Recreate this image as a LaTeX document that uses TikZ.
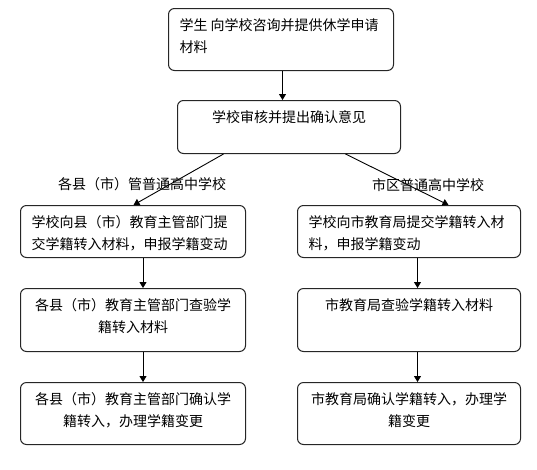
\documentclass[tikz,border=0pt]{standalone}
\usepackage{fontspec}
\setmainfont{Noto Sans CJK SC}
\usetikzlibrary{arrows.meta, positioning, calc}

\begin{document}
\begin{tikzpicture}[
  x=1pt, y=-1pt,
  box/.style={draw=black!85, line width=1pt, rounded corners=6pt,
              inner xsep=11pt, inner ysep=10pt, anchor=north west,
              font=\fontsize{14}{22}\selectfont},
  arr/.style={-{Triangle[length=6pt,width=7pt]}, line width=0.9pt},
  lbl/.style={font=\fontsize{14}{22}\selectfont, inner sep=0pt}
]
\useasboundingbox (0,0) rectangle (537,469);

% Top steps
\node[box] (apply) at (168,8)
  {\parbox[t][42pt][t]{203pt}{\raggedright 学生 向学校咨询并提供休学申请\\材料}};
\node[box] (review) at (177,100)
  {\parbox[t][33pt][t]{201pt}{\centering 学校审核并提出确认意见}};

% Left branch — county schools
\node[box] (lsubmit) at (20,205)
  {\parbox[t][32pt][t]{203pt}{\raggedright 学校向县（市）教育主管部门提\\交学籍转入材料，申报学籍变动}};
\node[box] (lcheck) at (20,288)
  {\parbox[t][43pt][t]{203pt}{\centering 各县（市）教育主管部门查验学\\籍转入材料}};
\node[box] (lconfirm) at (20,382)
  {\parbox[t][42pt][t]{203pt}{\centering 各县（市）教育主管部门确认学\\籍转入，办理学籍变更}};

% Right branch — city schools
\node[box] (rsubmit) at (297,205)
  {\parbox[t][32pt][t]{201pt}{\raggedright 学校向市教育局提交学籍转入材\\料，申报学籍变动}};
\node[box] (rcheck) at (297,288)
  {\parbox[t][43pt][t]{201pt}{\centering 市教育局查验学籍转入材料}};
\node[box] (rconfirm) at (297,382)
  {\parbox[t][42pt][t]{201pt}{\centering 市教育局确认学籍转入，办理学\\籍变更}};

% Branch labels
\node[lbl] (lname) at (142,184) {各县（市）管普通高中学校};
\node[lbl] (rname) at (428,185) {市区普通高中学校};

% Connectors
\draw[arr] ([xshift=1.5pt]apply.south) -- ([xshift=1.5pt]apply.south |- review.north);
\draw[arr] ([xshift=-65.5pt]review.south) -- ([xshift=0.5pt]lsubmit.north);
\draw[arr] ([xshift=56.5pt]review.south) -- ([xshift=39.5pt]rsubmit.north);
\draw[arr] ([xshift=10pt]lsubmit.south) -- ([xshift=10pt]lcheck.north);
\draw[arr] ([xshift=10pt]lcheck.south) -- ([xshift=10pt]lconfirm.north);
\draw[arr] ([xshift=8.5pt]rsubmit.south) -- ([xshift=8.5pt]rcheck.north);
\draw[arr] ([xshift=8.5pt]rcheck.south) -- ([xshift=8.5pt]rconfirm.north);
\end{tikzpicture}
\end{document}
